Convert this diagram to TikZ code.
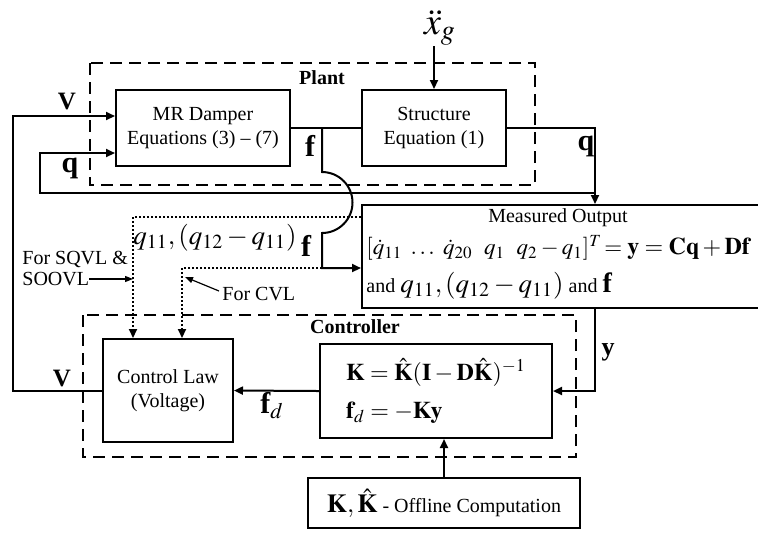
\documentclass[tikz,border=0pt]{standalone}
\usepackage{mathptmx}
\usepackage{amsmath,bm}
\usepackage[no-math]{fontspec}
\setmainfont{Liberation Serif}
\usepackage{tikz}
\usetikzlibrary{arrows.meta,positioning,calc}
\tikzset{
  ctlbox/.style   = {rectangle, draw=black, line width=1pt, fill=white,
                     align=center, font=\fontsize{10}{12}\selectfont, inner sep=2pt},
  ctlframe/.style = {draw=black, line width=1pt, dash pattern=on 6pt off 3.5pt},
  ctlwire/.style  = {draw=black, line width=1pt},
  ctlflow/.style  = {-{Triangle[length=4.5pt,width=4pt]}, draw=black, line width=1pt},
  ctldot/.style   = {-{Triangle[length=4.5pt,width=4pt]}, draw=black, line width=1pt,
                     dash pattern=on 1pt off 1pt},
  ctlpoint/.style = {-{Triangle[length=4pt,width=3pt]}, draw=black, line width=0.6pt},
  ctlhead/.style  = {font=\fontsize{10}{12}\selectfont\bfseries, inner sep=0pt},
  ctllbl/.style   = {font=\fontsize{15}{15}\selectfont\bfseries, inner sep=0pt},
  ctltxt/.style   = {font=\fontsize{10}{12}\selectfont, inner sep=0pt, align=left},
}

\begin{document}
\begin{tikzpicture}[x=0.5pt,y=-0.5pt]
  \useasboundingbox (0,0) rectangle (758,532);
  \clip (0,0) rectangle (758,532);

  % plant
  \draw[ctlframe] (90,63) rectangle (535,185);
  \node[ctlhead] (plantlbl) at (322,78) {Plant};
  \node[ctlbox, minimum width=87pt, minimum height=38pt] (mrdamper) at (203,128) {MR Damper\\Equations (3) -- (7)};
  \node[ctlbox, minimum width=72pt, minimum height=38pt] (structure) at (434,128) {Structure\\Equation (1)};
  \node[font=\fontsize{19}{19}\selectfont, inner sep=0pt] (xg) at (440,28) {$\ddot{x}_g$};

  % measured output
  \node[ctlbox, minimum width=219pt, minimum height=51.5pt] (measout) at (581,256.5) {};
  \node[ctltxt] (meastitle) at (558,218) {Measured Output};
  \node[ctltxt, anchor=west] (measeq) at (366,248)
    {{\fontsize{11.5}{12}\selectfont $[\dot{q}_{11}\ \ldots\ \dot{q}_{20}\ \ q_{1}\ \ q_{2}-q_{1}]^{T}\!=$}
     {\fontsize{12}{12}\selectfont $\mathbf{y}=\mathbf{C}\mathbf{q}+\mathbf{D}\mathbf{f}$}};
  \node[ctltxt, anchor=west] (measand) at (366,286)
    {and {\fontsize{13.5}{14}\selectfont $q_{11},(q_{12}-q_{11})$} and {\fontsize{14}{14}\selectfont\bfseries f}};

  % controller
  \draw[ctlframe] (83,315) rectangle (576,457);
  \node[ctlhead] (ctrllbl) at (355,327) {Controller};
  \node[ctlbox, minimum width=65pt, minimum height=51.5pt] (ctrllaw) at (168,390.5) {Control Law\\(Voltage)};
  \node[ctlbox, minimum width=116pt, minimum height=47pt, align=left,
        font=\fontsize{12}{19}\selectfont] (gainbox) at (436,391)
    {$\mathbf{K}=\hat{\mathbf{K}}(\mathbf{I}-\mathbf{D}\hat{\mathbf{K}})^{-1}$\\
     $\mathbf{f}_{d}=-\mathbf{K}\mathbf{y}$};
  \node[ctlbox, minimum width=136pt, minimum height=25pt] (offline) at (444,503)
    {{\fontsize{13}{13}\selectfont $\mathbf{K},\hat{\mathbf{K}}$} - Offline Computation};

  % wiring
  \coordinate (ftap)  at (322,128);
  \coordinate (qtap)  at (595,193);
  \coordinate (fjoin) at (322,268);
  \coordinate (sqvl)  at (133,217);
  \coordinate (cvl)   at (182,268);

  \draw[ctlwire] (mrdamper.east) -- (structure.west);
  \draw[ctlflow] (xg.south -| structure.north) -- (structure.north);
  \draw[ctlflow] (structure.east) -| (qtap |- measout.north);
  \draw[ctlflow] (qtap) -- ++(-555,0) |- ($(mrdamper.west)+(0,25)$);
  \draw[ctlflow] (ctrllaw.west) -- ++(-89,0) |- ($(mrdamper.west)+(0,-12)$);
  \draw[ctlflow] (ftap) -- ++(0,44) arc[start angle=-90, end angle=90, radius=30.5]
                 -- (fjoin) -- (fjoin -| measout.west);
  \draw[ctldot] (sqvl -| measout.west) -- (sqvl) -- (sqvl |- ctrllaw.north);
  \draw[ctldot] (fjoin) -- (cvl) -- (cvl |- ctrllaw.north);
  \draw[ctlflow] (gainbox.west) -- (ctrllaw.east);
  \draw[ctlflow] (qtap |- measout.south) |- (gainbox.east);
  \draw[ctlflow] (offline.north) -- (offline.north |- gainbox.south);

  % notes
  \node[ctltxt, anchor=west] (sqvlnote)  at (22,259) {For SQVL \&};
  \node[ctltxt, anchor=west] (soovlnote) at (22,279) {SOOVL};
  \draw[ctlpoint] (soovlnote.east) -- (soovlnote.east -| sqvl);
  \node[ctltxt, anchor=west] (cvlnote) at (222,294) {For CVL};
  \draw[ctlpoint] ($(cvlnote.west)+(-3,-3)$) -- ($(cvl)+(3,9)$);
  \node[font=\fontsize{13.5}{14}\selectfont, inner sep=0pt] (qpair) at (215,238) {$q_{11},(q_{12}-q_{11})$};

  % signal labels
  \node[ctllbl, font=\fontsize{12.5}{13}\selectfont\bfseries] (vtop) at (67,101) {V};
  \node[ctllbl, font=\fontsize{12.5}{13}\selectfont\bfseries] (vbot) at (62,378) {V};
  \node[ctllbl] (qleft)  at (70,168) {q};
  \node[ctllbl] (qright) at (586,146) {q};
  \node[ctllbl] (fup)    at (310,146) {f};
  \node[ctllbl] (fdown)  at (306,246) {f};
  \node[ctllbl, font=\fontsize{13}{13}\selectfont\bfseries] (ylbl) at (608,352) {y};
  \node[ctllbl] (fdlbl)  at (272,406) {f$_{d}$};
\end{tikzpicture}
\end{document}
